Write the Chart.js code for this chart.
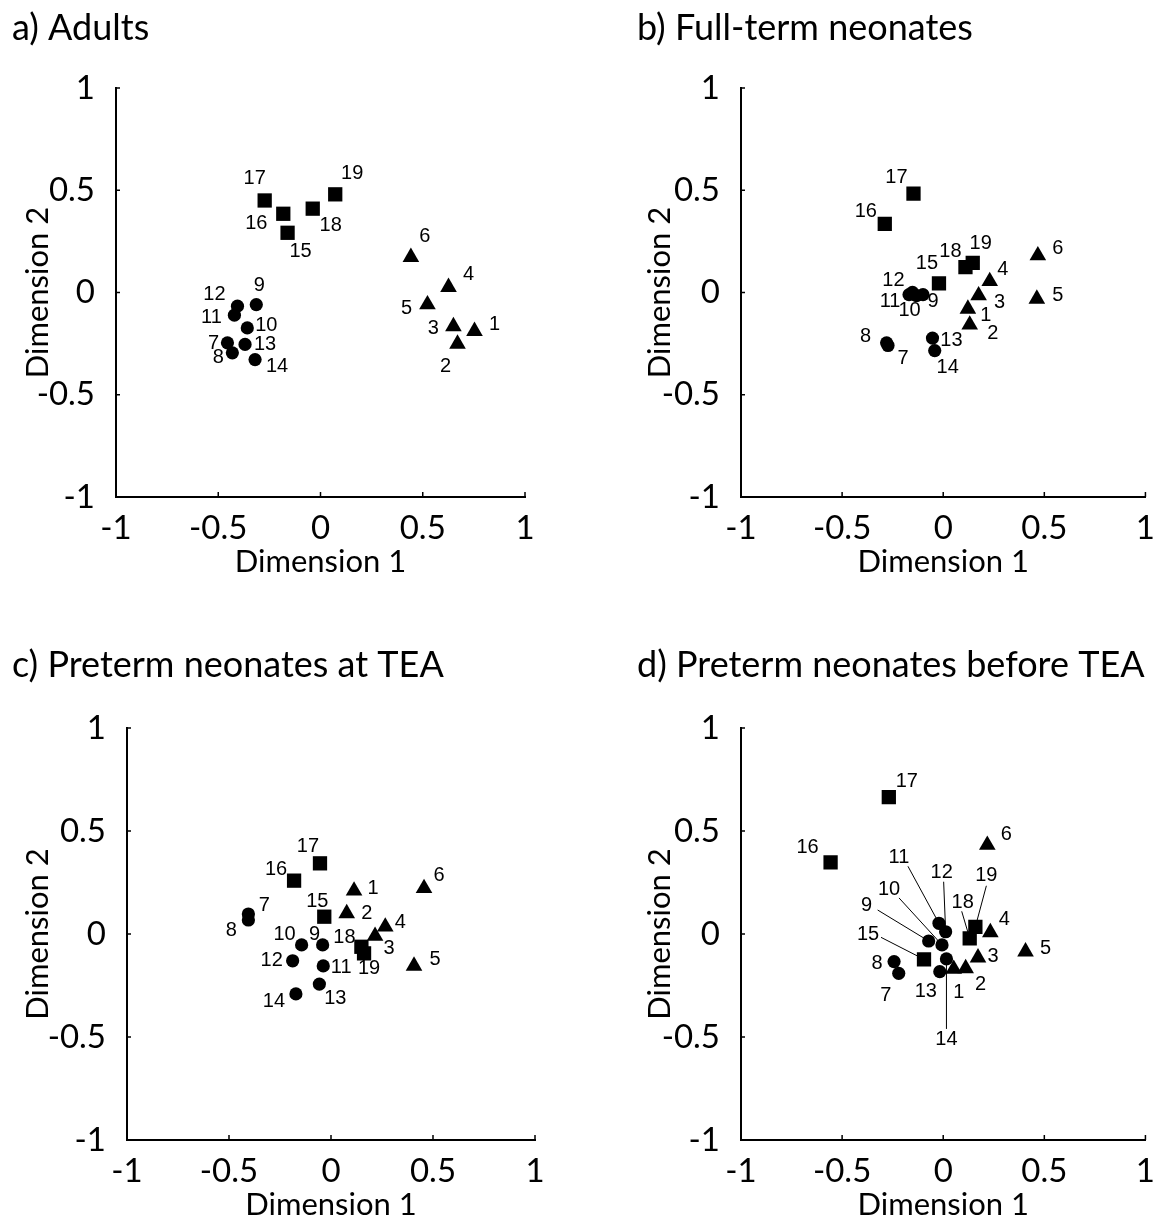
<!DOCTYPE html>
<html>
<head>
<meta charset="utf-8">
<script src="https://cdn.jsdelivr.net/npm/chart.js@4/dist/chart.umd.min.js"></script>
<style>
  html, body { margin: 0; padding: 0; background: #fff; }
  body { width: 1162px; height: 1220px; position: relative; overflow: hidden; }
  .panel { position: absolute; width: 581px; height: 610px; }
</style>
</head>
<body>
<div class="panel" style="left:0;top:0"><canvas id="chartA"></canvas></div>
<div class="panel" style="left:581px;top:0"><canvas id="chartB"></canvas></div>
<div class="panel" style="left:0;top:610px"><canvas id="chartC"></canvas></div>
<div class="panel" style="left:581px;top:610px"><canvas id="chartD"></canvas></div>
<script>
// ---------------- DATA ----------------
const triangleIds = [1, 2, 3, 4, 5, 6];
const circleIds = [7, 8, 9, 10, 11, 12, 13, 14];
const squareIds = [15, 16, 17, 18, 19];

const tickValues = [-1, -0.5, 0, 0.5, 1];
const tickLabels = ['-1', '-0.5', '0', '0.5', '1'];

const panelTitles = ['a) Adults', 'b) Full-term neonates', 'c) Preterm neonates at TEA', 'd) Preterm neonates before TEA'];
const xAxisTitle = 'Dimension 1';
const yAxisTitle = 'Dimension 2';

// values indexed by point id 1..19
const adultsX = [0.753, 0.670, 0.650, 0.626, 0.523, 0.442, -0.455, -0.431, -0.314, -0.358, -0.421, -0.406, -0.369, -0.320, -0.161, -0.182, -0.273, -0.038, 0.072];
const adultsY = [-0.189, -0.251, -0.166, 0.026, -0.059, 0.173, -0.246, -0.295, -0.059, -0.173, -0.111, -0.067, -0.254, -0.328, 0.292, 0.385, 0.450, 0.410, 0.480];

const fullTermX = [0.122, 0.131, 0.175, 0.230, 0.463, 0.468, -0.273, -0.280, -0.100, -0.132, -0.169, -0.152, -0.053, -0.042, -0.021, -0.289, -0.147, 0.110, 0.146];
const fullTermY = [-0.080, -0.158, -0.015, 0.055, -0.031, 0.181, -0.259, -0.246, -0.010, -0.015, -0.010, 0.001, -0.223, -0.284, 0.045, 0.336, 0.483, 0.124, 0.145];

const pretermTeaX = [0.113, 0.077, 0.216, 0.266, 0.407, 0.456, -0.405, -0.405, -0.041, -0.144, -0.038, -0.188, -0.057, -0.172, -0.033, -0.181, -0.054, 0.149, 0.162];
const pretermTeaY = [0.210, 0.100, -0.010, 0.035, -0.155, 0.222, 0.097, 0.068, -0.053, -0.053, -0.155, -0.130, -0.243, -0.291, 0.084, 0.259, 0.343, -0.062, -0.094];

const pretermBeforeX = [0.052, 0.111, 0.172, 0.233, 0.407, 0.218, -0.220, -0.243, -0.072, -0.006, -0.021, 0.012, -0.017, 0.016, -0.095, -0.557, -0.269, 0.131, 0.159];
const pretermBeforeY = [-0.170, -0.167, -0.115, 0.008, -0.086, 0.432, -0.191, -0.134, -0.034, -0.053, 0.052, 0.011, -0.183, -0.121, -0.123, 0.348, 0.664, -0.021, 0.035];

// ---------------- LABEL PLACEMENT (pixel offsets from each point, by id) ----------------
const labelOffsetsA = [[20,-7],[-12,23],[-20,2],[20,-13],[-21,4],[14,-21],[-14,1],[-14,5],[3,-19],[19,-2],[-23,2],[-23,-12],[20,0],[22,7],[13,19],[-27,10],[-10,-22],[18,17],[17,-21]];
const labelOffsetsB = [[18,7],[23,9],[21,7],[13,-12],[21,-3],[20,-7],[15,13],[-21,-6],[10,7],[-7,15],[-19,7],[-19,-12],[19,2],[13,17],[-12,-20],[-19,-12],[-17,-16],[-15,-16],[8,-19]];
const labelOffsetsC = [[19,-2],[20,0],[14,12],[15,-4],[21,-6],[15,-13],[16,-9],[-17,10],[-8,-10],[-17,-10],[18,2],[-21,0],[16,14],[-22,8],[-7,-15],[-18,-11],[-12,-17],[-17,-9],[5,15]];
const labelOffsetsD = [[5,23],[15,16],[15,-1],[14,-13],[20,-3],[19,-11],[-13,22],[-17,2],[-62,-36],[-53,-55],[-40,-66],[-4,-59],[-14,20],[0,81],[-56,-25],[-23,-15],[18,-16],[-7,-36],[11,-51]];
const leaderEndsD = {9:[-51,-31], 10:[-43,-47], 11:[-31,-57], 12:[-2,-50], 14:[0,70], 15:[-43,-22], 18:[-8,-27], 19:[11,-41]};

// ---------------- BUILD ----------------
const FONT = 'Lato, "Open Sans", sans-serif';

function buildDatasets(xs, ys) {
  const groups = [
    {ids: triangleIds, style: 'triangle', r: 9.6},
    {ids: circleIds, style: 'circle', r: 6.6},
    {ids: squareIds, style: 'rect', r: 10.1}
  ];
  return groups.map(g => ({
    data: g.ids.map(id => ({x: xs[id - 1], y: ys[id - 1], id: id})),
    pointStyle: g.style,
    pointRadius: g.r,
    pointHoverRadius: g.r,
    backgroundColor: '#000',
    borderColor: '#000',
    borderWidth: 0,
    showLine: false
  }));
}

function makeLabelPlugin(offsets, leaders) {
  return {
    id: 'pointLabels',
    beforeDatasetsDraw(chart) {
      if (!leaders) return;
      const ctx = chart.ctx;
      ctx.save();
      ctx.strokeStyle = '#000';
      ctx.lineWidth = 1;
      chart.data.datasets.forEach((ds, i) => {
        chart.getDatasetMeta(i).data.forEach((el, j) => {
          const le = leaders[ds.data[j].id];
          if (!le) return;
          ctx.beginPath();
          ctx.moveTo(el.x, el.y);
          ctx.lineTo(el.x + le[0], el.y + le[1]);
          ctx.stroke();
        });
      });
      ctx.restore();
    },
    afterDatasetsDraw(chart) {
      const ctx = chart.ctx;
      ctx.save();
      ctx.fillStyle = '#000';
      ctx.font = '20px "Liberation Sans", Arial, sans-serif';
      ctx.textAlign = 'center';
      ctx.textBaseline = 'middle';
      chart.data.datasets.forEach((ds, i) => {
        chart.getDatasetMeta(i).data.forEach((el, j) => {
          const id = ds.data[j].id;
          const off = offsets[id - 1];
          ctx.fillText(String(id), el.x + off[0], el.y + off[1]);
        });
      });
      ctx.restore();
    }
  };
}

const inwardTicks = {
  id: 'inwardTicks',
  afterDraw(chart) {
    const ctx = chart.ctx, area = chart.chartArea;
    const sx = chart.scales.x, sy = chart.scales.y;
    ctx.save();
    ctx.strokeStyle = '#000';
    ctx.lineWidth = 1.5;
    ctx.beginPath();
    tickValues.forEach(v => {
      const px = sx.getPixelForValue(v);
      ctx.moveTo(px, area.bottom);
      ctx.lineTo(px, area.bottom - 5);
      const py = sy.getPixelForValue(v);
      ctx.moveTo(area.left, py);
      ctx.lineTo(area.left + 4, py);
    });
    ctx.stroke();
    ctx.restore();
  }
};

function makeChart(canvasId, title, xs, ys, offsets, leaders, lay) {
  const tickFont = {family: FONT, size: 33, lineHeight: 1};
  return new Chart(document.getElementById(canvasId), {
    type: 'scatter',
    data: {datasets: buildDatasets(xs, ys)},
    options: {
      responsive: true,
      maintainAspectRatio: false,
      animation: false,
      events: [],
      layout: {padding: {left: lay.padLeft, right: lay.padRight, top: 0, bottom: 0}},
      plugins: {
        legend: {display: false},
        tooltip: {enabled: false},
        title: {
          display: true, text: title, align: 'start', color: '#000',
          font: {family: FONT, size: 36, lineHeight: 1, weight: 'normal'},
          padding: {top: lay.titleTop, bottom: lay.titleBottom}
        }
      },
      scales: {
        x: {
          type: 'linear', min: -1, max: 1,
          grid: {display: false},
          border: {display: true, color: '#000', width: 2},
          ticks: {stepSize: 0.5, color: '#000', font: tickFont, padding: 7, maxRotation: 0, autoSkip: false,
                  callback: v => { const k = tickValues.indexOf(v); return k >= 0 ? tickLabels[k] : ''; }},
          title: {display: true, text: xAxisTitle, color: '#000', font: {family: FONT, size: 31, lineHeight: 1},
                  padding: {top: 0, bottom: lay.xTitleBottom}},
          afterFit: s => { s.height = lay.xHeight; }
        },
        y: {
          type: 'linear', min: -1, max: 1,
          grid: {display: false},
          border: {display: true, color: '#000', width: 2},
          ticks: {stepSize: 0.5, color: '#000', font: tickFont, padding: 13, autoSkip: false,
                  callback: v => { const k = tickValues.indexOf(v); return k >= 0 ? tickLabels[k] : ''; }},
          title: {display: true, text: yAxisTitle, color: '#000', font: {family: FONT, size: 31, lineHeight: 1},
                  padding: {top: lay.yTitleTop, bottom: 0}},
          afterFit: s => { s.width = lay.yWidth; }
        }
      }
    },
    plugins: [makeLabelPlugin(offsets, leaders), inwardTicks]
  });
}

makeChart('chartA', panelTitles[0], adultsX, adultsY, labelOffsetsA, null,
  {padLeft: 12, padRight: 56, yWidth: 104, xHeight: 113, titleTop: 10, titleBottom: 42, xTitleBottom: 32.5, yTitleTop: 10.5});
makeChart('chartB', panelTitles[1], fullTermX, fullTermY, labelOffsetsB, null,
  {padLeft: 56, padRight: 16, yWidth: 104, xHeight: 113, titleTop: 10, titleBottom: 42, xTitleBottom: 32.5, yTitleTop: 7.5});
makeChart('chartC', panelTitles[2], pretermTeaX, pretermTeaY, labelOffsetsC, null,
  {padLeft: 12, padRight: 46, yWidth: 115, xHeight: 80, titleTop: 37, titleBottom: 45, xTitleBottom: 0, yTitleTop: 10.5});
makeChart('chartD', panelTitles[3], pretermBeforeX, pretermBeforeY, labelOffsetsD, leaderEndsD,
  {padLeft: 56, padRight: 16, yWidth: 104, xHeight: 80, titleTop: 37, titleBottom: 45, xTitleBottom: 0, yTitleTop: 7.5});
</script>
</body>
</html>
